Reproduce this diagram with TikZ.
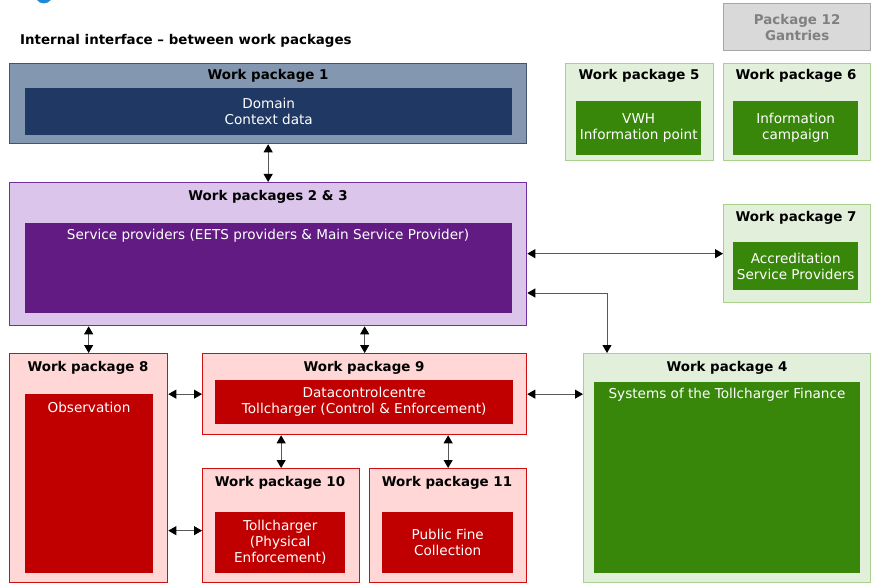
\documentclass[tikz,border=0pt]{standalone}
\usepackage{fontspec}
\setmainfont{DejaVu Sans}
\usetikzlibrary{positioning,arrows.meta}

\definecolor{logoblue}{HTML}{1C8AD6}
\definecolor{wpblueline}{HTML}{44546A}
\definecolor{wpbluelight}{HTML}{8497B0}
\definecolor{wpbluedark}{HTML}{203864}
\definecolor{wppurpleline}{HTML}{7030A0}
\definecolor{wppurplelight}{HTML}{DBC5EA}
\definecolor{wppurpledark}{HTML}{621B82}
\definecolor{wpgreenline}{HTML}{A9D18E}
\definecolor{wpgreenlight}{HTML}{E2EFDA}
\definecolor{wpgreendark}{HTML}{38870B}
\definecolor{wpredline}{HTML}{D01010}
\definecolor{wpredlight}{HTML}{FFD7D7}
\definecolor{wpreddark}{HTML}{C00000}
\definecolor{wpgreyline}{HTML}{A6A6A6}
\definecolor{wpgreylight}{HTML}{D9D9D9}
\definecolor{wpgreytext}{HTML}{808080}

\begin{document}
\begin{tikzpicture}[x=1pt,y=-1pt,
  wpbox/.style={draw,line width=1.3pt,anchor=north west,inner sep=0pt},
  core/.style={anchor=north west,inner sep=0pt,text=white,align=center,
    font=\fontsize{13.6}{16}\selectfont},
  coretext/.style={inner sep=0pt,text=white,font=\fontsize{13.6}{16}\selectfont},
  wptitle/.style={inner sep=0pt,font=\bfseries\fontsize{13.4}{16}\selectfont},
  link/.style={draw=black!65,line width=0.9pt,
    {Triangle[length=8pt,width=9pt,color=black]}-{Triangle[length=8pt,width=9pt,color=black]}}]
\useasboundingbox (0,0) rectangle (873,583);
\fill[logoblue] (37,0) .. controls (40,4.5) and (47,4.5) .. (51,0) -- cycle;
\node[anchor=west,inner sep=0pt,font=\bfseries\fontsize{13.4}{16}\selectfont] (head) at (20,41)
     {Internal interface -- between work packages};

% package 12
\node[wpbox,draw=wpgreyline,fill=wpgreylight,minimum width=147pt,minimum height=47pt,
      align=center,text=wpgreytext,font=\bfseries\fontsize{13.4}{16}\selectfont] (wp12) at (723,3)
     {Package 12\\Gantries};

% work package 1
\node[wpbox,draw=wpblueline,fill=wpbluelight,minimum width=517pt,minimum height=80pt] (wp1) at (9,63) {};
\node[wptitle] (wp1t) at (268,76) {Work package 1};
\node[core,fill=wpbluedark,minimum width=487pt,minimum height=47pt] (wp1c) at (25,88) {Domain\\Context data};

% work packages 5, 6, 7
\node[wpbox,draw=wpgreenline,fill=wpgreenlight,minimum width=148pt,minimum height=97pt] (wp5) at (565,63) {};
\node[wptitle] (wp5t) at (639,76) {Work package 5};
\node[core,fill=wpgreendark,minimum width=125pt,minimum height=54pt] (wp5c) at (576,101) {VWH\\Information point};
\node[wpbox,draw=wpgreenline,fill=wpgreenlight,minimum width=147pt,minimum height=97pt] (wp6) at (723,63) {};
\node[wptitle] (wp6t) at (796,76) {Work package 6};
\node[core,fill=wpgreendark,minimum width=125pt,minimum height=54pt] (wp6c) at (733,101) {Information\\campaign};
\node[wpbox,draw=wpgreenline,fill=wpgreenlight,minimum width=147pt,minimum height=98pt] (wp7) at (723,204) {};
\node[wptitle] (wp7t) at (796,218) {Work package 7};
\node[core,fill=wpgreendark,minimum width=125pt,minimum height=48pt] (wp7c) at (733,242) {Accreditation\\Service Providers};

% work packages 2 & 3
\node[wpbox,draw=wppurpleline,fill=wppurplelight,minimum width=517pt,minimum height=143pt] (wp23) at (9,182) {};
\node[wptitle] (wp23t) at (268,197) {Work packages 2 \& 3};
\node[core,fill=wppurpledark,minimum width=487pt,minimum height=90pt] (wp23c) at (25,223) {};
\node[coretext] (wp23x) at (268,236) {Service providers (EETS providers \& Main Service Provider)};

% work package 8
\node[wpbox,draw=wpredline,fill=wpredlight,minimum width=158pt,minimum height=229pt] (wp8) at (9,353) {};
\node[wptitle] (wp8t) at (88,368) {Work package 8};
\node[core,fill=wpreddark,minimum width=128pt,minimum height=179pt] (wp8c) at (25,394) {};
\node[coretext] (wp8x) at (89,407) {Observation};

% work package 9
\node[wpbox,draw=wpredline,fill=wpredlight,minimum width=324pt,minimum height=81pt] (wp9) at (202,353) {};
\node[wptitle] (wp9t) at (364,368) {Work package 9};
\node[core,fill=wpreddark,minimum width=298pt,minimum height=44pt] (wp9c) at (215,380)
     {Datacontrolcentre\\Tollcharger (Control \& Enforcement)};

% work packages 10, 11
\node[wpbox,draw=wpredline,fill=wpredlight,minimum width=157pt,minimum height=114pt] (wp10) at (202,468) {};
\node[wptitle] (wp10t) at (280,483) {Work package 10};
\node[core,fill=wpreddark,minimum width=130pt,minimum height=61pt] (wp10c) at (215,512)
     {Tollcharger\\(Physical\\Enforcement)};
\node[wpbox,draw=wpredline,fill=wpredlight,minimum width=157pt,minimum height=114pt] (wp11) at (369,468) {};
\node[wptitle] (wp11t) at (447,483) {Work package 11};
\node[core,fill=wpreddark,minimum width=131pt,minimum height=61pt] (wp11c) at (382,512)
     {Public Fine\\Collection};

% work package 4
\node[wpbox,draw=wpgreenline,fill=wpgreenlight,minimum width=287pt,minimum height=229pt] (wp4) at (583,353) {};
\node[wptitle] (wp4t) at (727,368) {Work package 4};
\node[core,fill=wpgreendark,minimum width=266pt,minimum height=191pt] (wp4c) at (594,382) {};
\node[coretext] (wp4x) at (727,395) {Systems of the Tollcharger Finance};

% interfaces
\coordinate (bend) at (607,293);
\draw[link] (wp1.south) -- (wp23.north);
\draw[link] (wp8.north) -- (wp8.north |- wp23.south);
\draw[link] (wp9.north) -- (wp9.north |- wp23.south);
\draw[link] (wp7.west) -- (wp7.west -| wp23.east);
\draw[link] (bend -| wp23.east) -- (bend) -- (bend |- wp4.north);
\draw[link] (wp9.west) -- (wp9.west -| wp8.east);
\draw[link] ([yshift=-5pt]wp10.west) -- ([yshift=-5pt]wp10.west -| wp8.east);
\draw[link] (wp10.north) -- (wp10.north |- wp9.south);
\draw[link] (wp11.north) -- (wp11.north |- wp9.south);
\draw[link] (wp9.east) -- (wp9.east -| wp4.west);
\end{tikzpicture}
\end{document}
